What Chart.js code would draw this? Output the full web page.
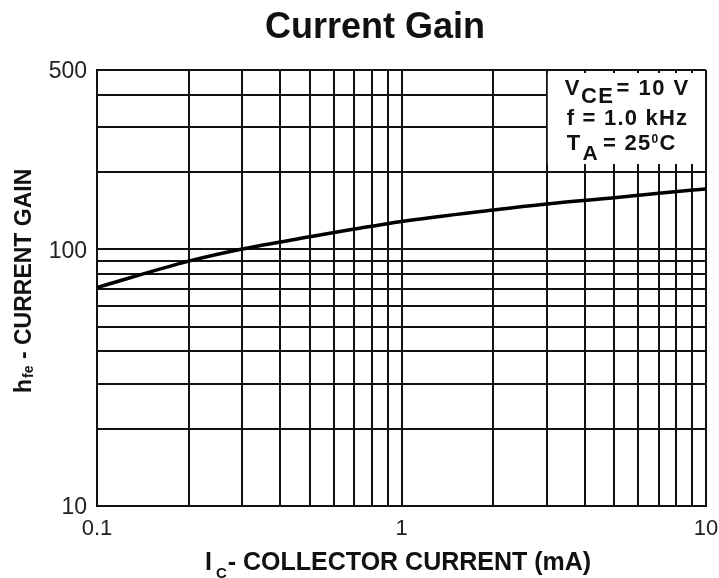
<!DOCTYPE html>
<html>
<head>
<meta charset="utf-8">
<script src="https://cdn.jsdelivr.net/npm/chart.js@4/dist/chart.umd.min.js"></script>
<style>
  html, body { margin: 0; padding: 0; background: #fff; }
  #wrap { width: 719px; height: 578px; }
</style>
</head>
<body>
<div id="wrap"><canvas id="c" width="719" height="578"></canvas></div>
<script>
// Small-signal current gain h_fe versus collector current
const collectorCurrentMA = [0.1, 0.2, 0.3, 0.5, 0.7, 1, 2, 3, 5, 7, 10];
const currentGain = [71, 90, 100.4, 112, 120, 128.5, 142.4, 150.3, 159, 165.4, 172];

// Log grid lines and the labelled decades
const xGridValues = [0.1, 0.2, 0.3, 0.4, 0.5, 0.6, 0.7, 0.8, 0.9, 1, 2, 3, 4, 5, 6, 7, 8, 9, 10];
const yGridValues = [10, 20, 30, 40, 50, 60, 70, 80, 90, 100, 200, 300, 400, 500];
const xTickLabels = [0.1, 1, 10];
const yTickLabels = [10, 100, 500];

// Test conditions box (spans from the 3 mA line to the right edge)
const conditionsBoxFromX = 3;
const conditionsBoxDownToY = 215;

const FONT = '"Liberation Sans", Arial, Helvetica, sans-serif';
const INK = '#111';

function drawRuns(ctx, x, y, runs, spacing) {
  ctx.save();
  ctx.letterSpacing = (spacing || 0) + 'px';
  ctx.textBaseline = 'alphabetic';
  ctx.textAlign = 'left';
  let cx = x;
  for (const r of runs) {
    ctx.font = r.font;
    ctx.fillText(r.text, cx, y + (r.dy || 0));
    cx += ctx.measureText(r.text).width + (r.gap || 0);
  }
  ctx.restore();
}

const annotations = {
  id: 'annotations',
  beforeDatasetsDraw(chart) {
    const { ctx, chartArea, scales } = chart;
    const x0 = scales.x.getPixelForValue(conditionsBoxFromX);
    const yB = scales.y.getPixelForValue(conditionsBoxDownToY);
    ctx.save();
    ctx.fillStyle = '#fff';
    ctx.fillRect(x0 + 1, chartArea.top + 3, chartArea.right - x0 - 2, yB - chartArea.top - 3);
    ctx.restore();
  },
  afterDraw(chart) {
    const { ctx, chartArea, scales } = chart;
    ctx.save();
    ctx.fillStyle = INK;

    // Title
    ctx.font = 'bold 36px ' + FONT;
    ctx.textAlign = 'center';
    ctx.textBaseline = 'alphabetic';
    ctx.fillText('Current Gain', 375, 38);

    // Conditions
    const bx = scales.x.getPixelForValue(conditionsBoxFromX) + 18;
    const top = chartArea.top;
    const main = 'bold 22px ' + FONT;
    drawRuns(ctx, bx, top + 25, [
      { text: 'V', font: main },
      { text: 'CE', font: main, dy: 8, gap: 2 },
      { text: '= 10 V', font: main }
    ], 1.5);
    drawRuns(ctx, bx + 2, top + 55, [
      { text: 'f = 1.0 kHz', font: main }
    ], 1.2);
    drawRuns(ctx, bx + 2, top + 80, [
      { text: 'T', font: main, gap: 1 },
      { text: 'A', font: 'bold 21px ' + FONT, dy: 10, gap: 4 },
      { text: '= 25', font: main },
      { text: '0', font: 'bold 12px ' + FONT, dy: -7 },
      { text: 'C', font: main }
    ], 1.3);

    // X axis title
    drawRuns(ctx, 205, 570, [
      { text: 'I', font: 'bold 25px ' + FONT, gap: 4 },
      { text: 'C', font: 'bold 15px ' + FONT, dy: 8, gap: 1 },
      { text: '- COLLECTOR CURRENT (mA)', font: 'bold 25px ' + FONT }
    ], 0);

    // Y axis title (rotated)
    ctx.translate(31, 393);
    ctx.rotate(-Math.PI / 2);
    drawRuns(ctx, 0, 0, [
      { text: 'h', font: 'bold 23px ' + FONT, gap: 1 },
      { text: 'fe', font: 'bold 14px ' + FONT, dy: 2 },
      { text: ' - CURRENT GAIN', font: 'bold 23px ' + FONT }
    ], 0);
    ctx.restore();
  }
};

new Chart(document.getElementById('c'), {
  type: 'line',
  data: {
    datasets: [{
      data: collectorCurrentMA.map((v, i) => ({ x: v, y: currentGain[i] })),
      borderColor: '#000',
      borderWidth: 3.5,
      pointRadius: 0,
      fill: false,
      cubicInterpolationMode: 'monotone'
    }]
  },
  options: {
    responsive: false,
    animation: false,
    events: [],
    layout: { padding: { left: 0, right: 13, top: 70, bottom: 0 } },
    plugins: { legend: { display: false }, title: { display: false }, tooltip: { enabled: false } },
    scales: {
      x: {
        type: 'logarithmic',
        min: 0.1,
        max: 10,
        afterBuildTicks: (s) => { s.ticks = xGridValues.map(v => ({ value: v })); },
        afterFit: (s) => { s.height = 72; s.paddingLeft = 0; s.paddingRight = 0; },
        grid: { color: INK, lineWidth: 2, drawTicks: false },
        border: { color: INK, width: 2 },
        ticks: {
          autoSkip: false,
          maxRotation: 0,
          padding: 10,
          color: '#222',
          font: { family: FONT, size: 22 },
          callback: (v) => xTickLabels.includes(v) ? String(v) : ''
        }
      },
      y: {
        type: 'logarithmic',
        min: 10,
        max: 500,
        afterBuildTicks: (s) => { s.ticks = yGridValues.map(v => ({ value: v })); },
        afterFit: (s) => { s.width = 97; s.paddingTop = 0; s.paddingBottom = 0; },
        grid: { color: INK, lineWidth: 2, drawTicks: false },
        border: { color: INK, width: 2 },
        ticks: {
          autoSkip: false,
          padding: 10,
          labelOffset: 2,
          color: '#222',
          font: { family: FONT, size: 23 },
          callback: (v) => yTickLabels.includes(v) ? String(v) : ''
        }
      }
    }
  },
  plugins: [annotations]
});
</script>
</body>
</html>
